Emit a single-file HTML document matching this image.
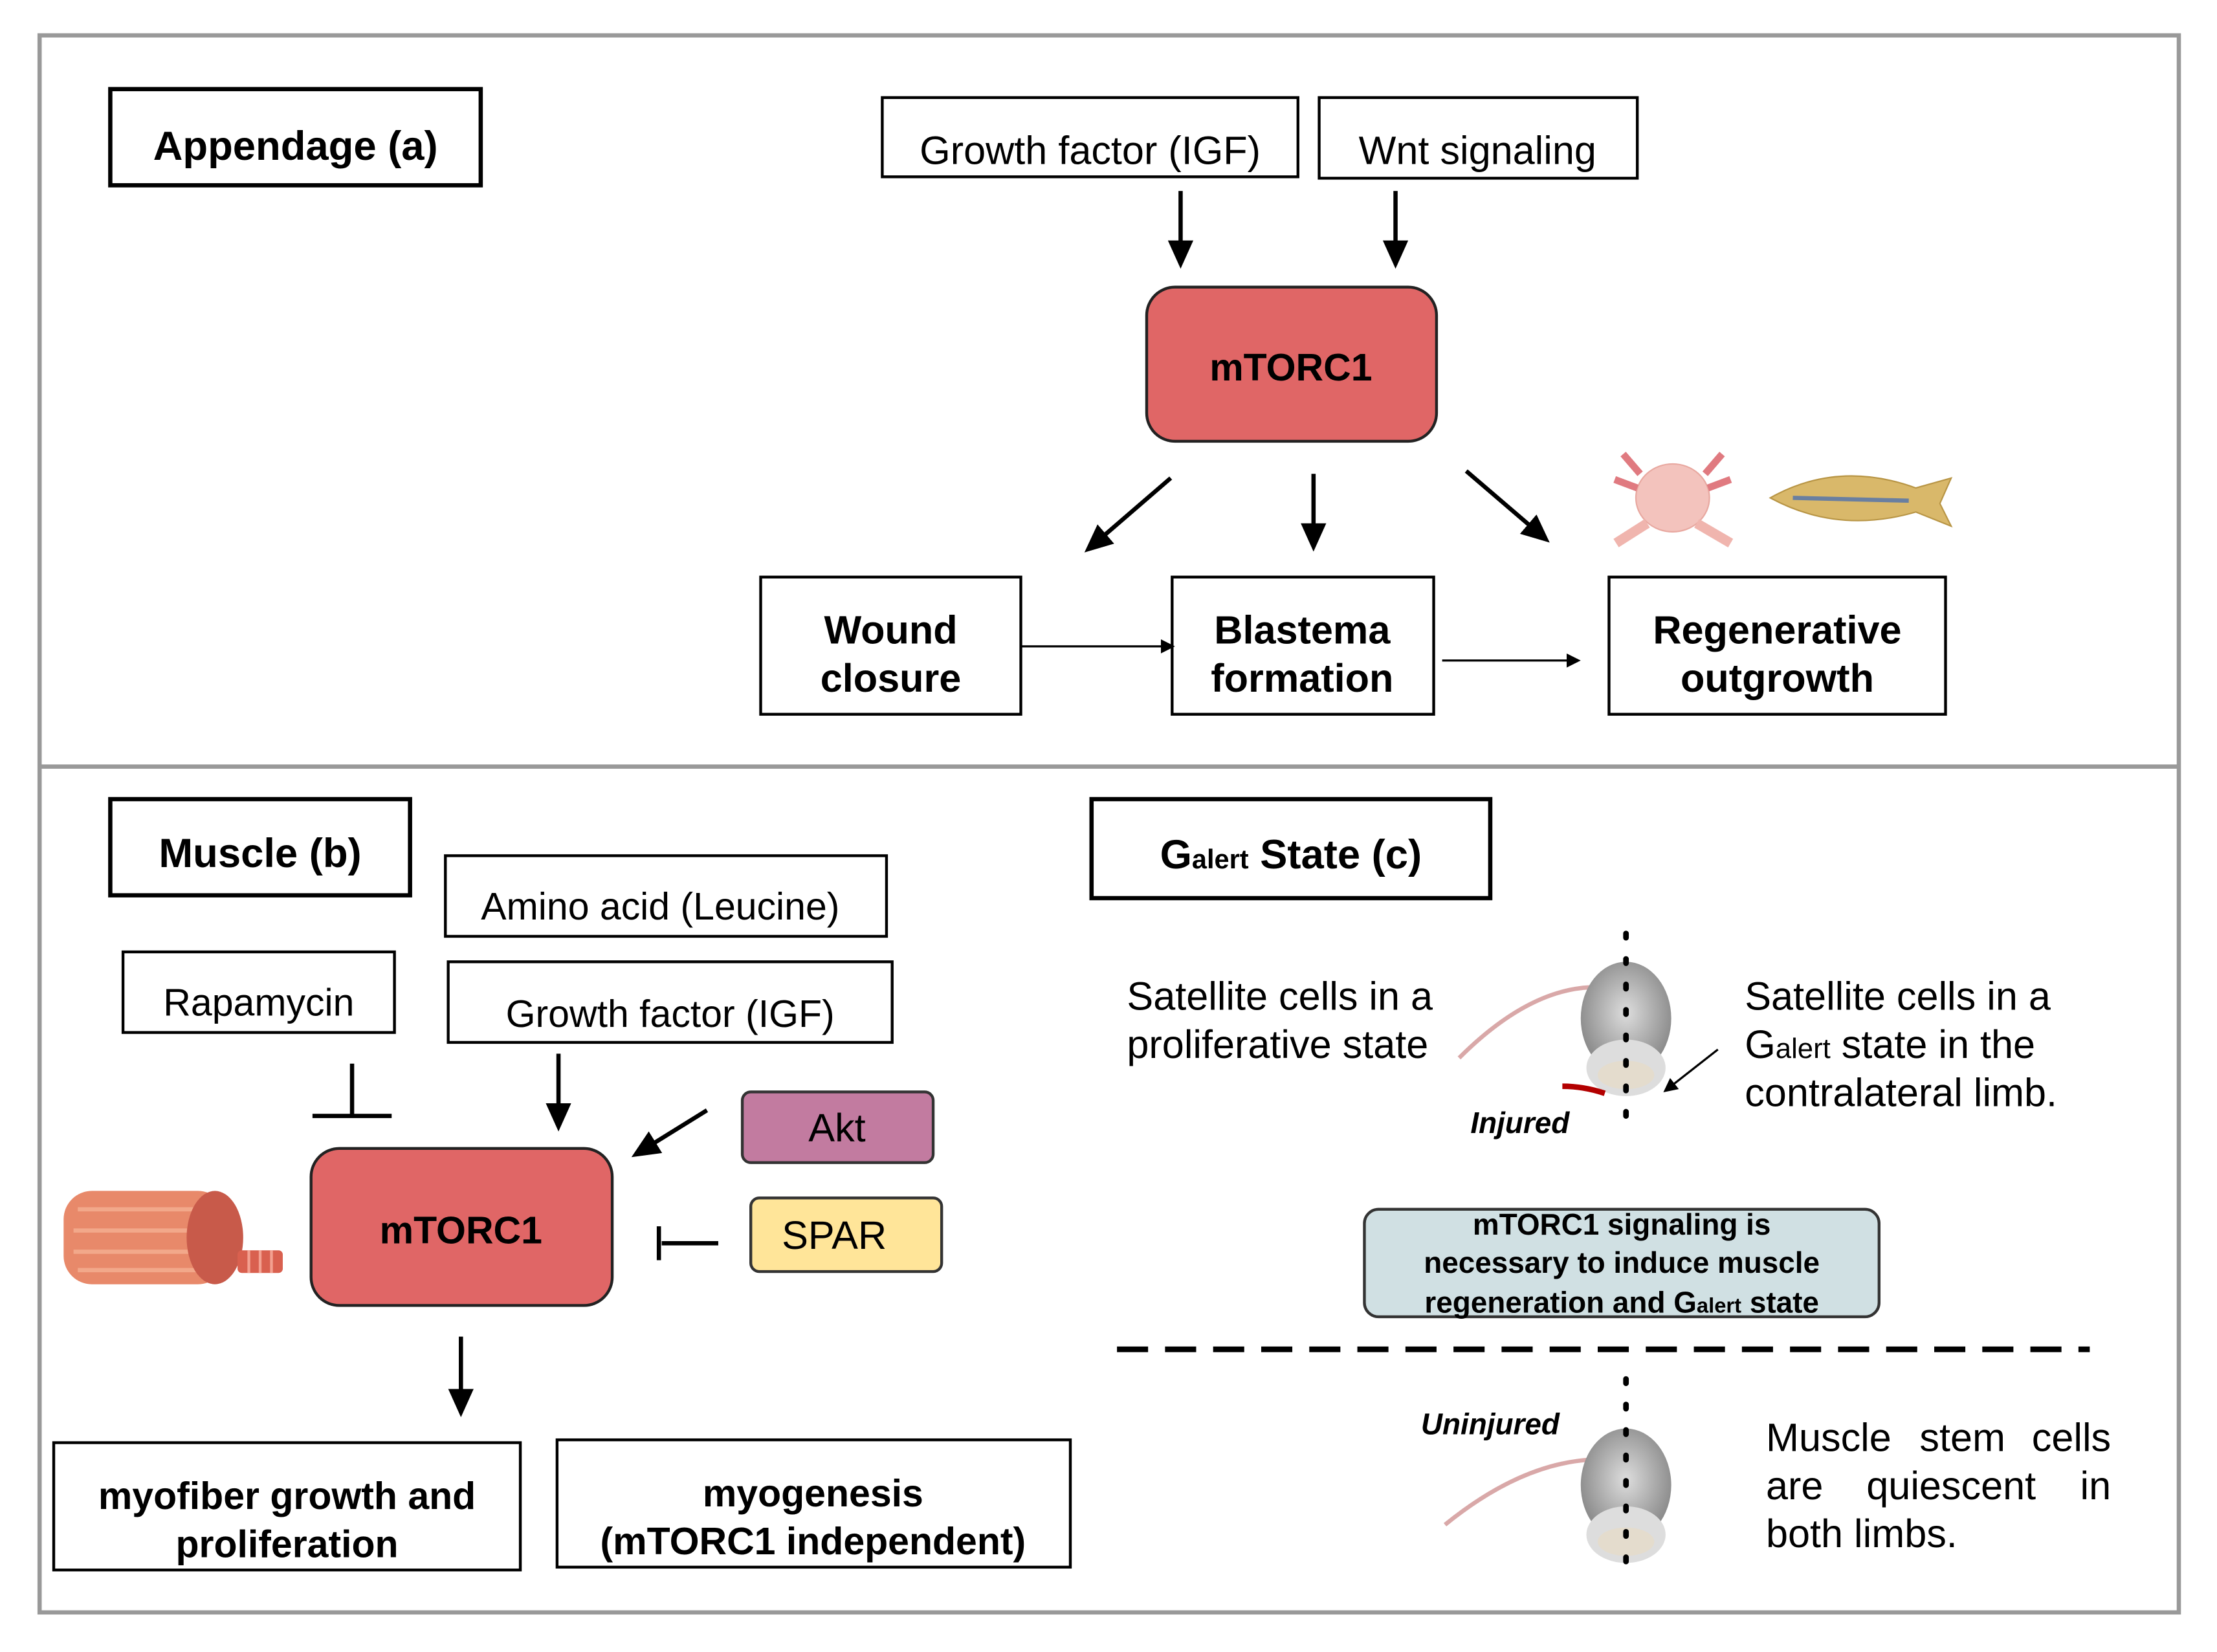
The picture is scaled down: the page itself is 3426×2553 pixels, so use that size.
<!DOCTYPE html>
<html><head><meta charset="utf-8"><style>
html,body{margin:0;padding:0;background:#fff;}
svg{display:block;}
text{font-family:"Liberation Sans",Arial,sans-serif;}
</style></head><body>
<svg width="3426" height="2553" viewBox="0 0 1568 1168" preserveAspectRatio="none" xmlns="http://www.w3.org/2000/svg">
<defs>
<marker id="ah" markerWidth="10" markerHeight="10" refX="8" refY="5" orient="auto" markerUnits="userSpaceOnUse"><path d="M0,0 L10,5 L0,10 z" fill="#000"/></marker>
<marker id="ahB" markerWidth="20" markerHeight="18" refX="16" refY="9" orient="auto" markerUnits="userSpaceOnUse"><path d="M0,0 L20,9 L0,18 z" fill="#000"/></marker>
<radialGradient id="mouse" cx="50%" cy="45%" r="55%"><stop offset="0" stop-color="#ddd"/><stop offset="0.6" stop-color="#aaa"/><stop offset="1" stop-color="#888"/></radialGradient>
</defs>
<rect x="0" y="0" width="1568" height="1168" fill="#fff"/>
<rect x="28" y="25" width="1513" height="1115" fill="none" stroke="#999" stroke-width="3"/>
<line x1="28" y1="542" x2="1541" y2="542" stroke="#999" stroke-width="3"/>

<!-- Panel a -->
<rect x="78" y="63" width="262" height="68" fill="#fff" stroke="#000" stroke-width="3"/>
<text x="209" y="113" font-size="29" font-weight="bold" text-anchor="middle">Appendage (a)</text>
<rect x="624" y="69" width="294" height="56" fill="#fff" stroke="#000" stroke-width="2"/>
<text x="771" y="116" font-size="28" text-anchor="middle">Growth factor (IGF)</text>
<rect x="933" y="69" width="225" height="57" fill="#fff" stroke="#000" stroke-width="2"/>
<text x="1045" y="116" font-size="28" text-anchor="middle">Wnt signaling</text>
<line x1="835" y1="135" x2="835" y2="186" stroke="#000" stroke-width="3" marker-end="url(#ahB)"/>
<line x1="987" y1="135" x2="987" y2="186" stroke="#000" stroke-width="3" marker-end="url(#ahB)"/>
<rect x="811" y="203" width="205" height="109" rx="20" fill="#e06666" stroke="#222" stroke-width="2"/>
<text x="913" y="269" font-size="27" font-weight="bold" text-anchor="middle">mTORC1</text>
<line x1="828" y1="338" x2="770" y2="388" stroke="#000" stroke-width="3" marker-end="url(#ahB)"/>
<line x1="929" y1="335" x2="929" y2="386" stroke="#000" stroke-width="3" marker-end="url(#ahB)"/>
<line x1="1037" y1="333" x2="1093" y2="381" stroke="#000" stroke-width="3" marker-end="url(#ahB)"/>
<rect x="538" y="408" width="184" height="97" fill="#fff" stroke="#000" stroke-width="2"/>
<text x="630" y="455" font-size="28" font-weight="bold" text-anchor="middle">Wound</text>
<text x="630" y="489" font-size="28" font-weight="bold" text-anchor="middle">closure</text>
<rect x="829" y="408" width="185" height="97" fill="#fff" stroke="#000" stroke-width="2"/>
<text x="921" y="455" font-size="28" font-weight="bold" text-anchor="middle">Blastema</text>
<text x="921" y="489" font-size="28" font-weight="bold" text-anchor="middle">formation</text>
<rect x="1138" y="408" width="238" height="97" fill="#fff" stroke="#000" stroke-width="2"/>
<text x="1257" y="455" font-size="28" font-weight="bold" text-anchor="middle">Regenerative</text>
<text x="1257" y="489" font-size="28" font-weight="bold" text-anchor="middle">outgrowth</text>
<line x1="722" y1="457" x2="829" y2="457" stroke="#000" stroke-width="1.5" marker-end="url(#ah)"/>
<line x1="1020" y1="467" x2="1116" y2="467" stroke="#000" stroke-width="1.5" marker-end="url(#ah)"/>
<!-- axolotl -->
<g fill="#f3c3bd" stroke="#e8a8a0" stroke-width="1">
<ellipse cx="1183" cy="352" rx="26" ry="24"/>
<path d="M1160,335 l-12,-14 M1158,345 l-16,-6 M1206,335 l12,-14 M1208,345 l16,-6" stroke="#e07a80" stroke-width="5"/>
<path d="M1165,370 l-22,14 M1200,370 l24,14" stroke="#f0b5ae" stroke-width="7"/>
</g>
<!-- fish -->
<path d="M1252,352 Q1300,325 1355,345 L1380,338 L1372,356 L1380,372 L1355,362 Q1300,378 1252,352 z" fill="#d9b86a" stroke="#b89545" stroke-width="1"/>
<path d="M1268,352 L1350,354" stroke="#6a7fa0" stroke-width="3"/>

<!-- Panel b -->
<rect x="78" y="565" width="212" height="68" fill="#fff" stroke="#000" stroke-width="3"/>
<text x="184" y="613" font-size="29" font-weight="bold" text-anchor="middle">Muscle (b)</text>
<rect x="315" y="605" width="312" height="57" fill="#fff" stroke="#000" stroke-width="2"/>
<text x="467" y="650" font-size="27" text-anchor="middle">Amino acid (Leucine)</text>
<rect x="87" y="673" width="192" height="57" fill="#fff" stroke="#000" stroke-width="2"/>
<text x="183" y="718" font-size="27" text-anchor="middle">Rapamycin</text>
<rect x="317" y="680" width="314" height="57" fill="#fff" stroke="#000" stroke-width="2"/>
<text x="474" y="726" font-size="27" text-anchor="middle">Growth factor (IGF)</text>
<line x1="249" y1="752" x2="249" y2="788" stroke="#000" stroke-width="3"/>
<line x1="221" y1="789" x2="277" y2="789" stroke="#000" stroke-width="3"/>
<line x1="395" y1="745" x2="395" y2="796" stroke="#000" stroke-width="3" marker-end="url(#ahB)"/>
<line x1="500" y1="785" x2="450" y2="816" stroke="#000" stroke-width="3" marker-end="url(#ahB)"/>
<rect x="525" y="772" width="135" height="50" rx="6" fill="#c27ba0" stroke="#333" stroke-width="2"/>
<text x="592" y="807" font-size="28" text-anchor="middle">Akt</text>
<rect x="531" y="847" width="135" height="52" rx="6" fill="#ffe599" stroke="#333" stroke-width="2"/>
<text x="590" y="883" font-size="28" text-anchor="middle">SPAR</text>
<line x1="468" y1="879" x2="508" y2="879" stroke="#000" stroke-width="3"/>
<line x1="466" y1="867" x2="466" y2="891" stroke="#000" stroke-width="3"/>
<rect x="220" y="812" width="213" height="111" rx="20" fill="#e06666" stroke="#222" stroke-width="2"/>
<text x="326" y="879" font-size="27" font-weight="bold" text-anchor="middle">mTORC1</text>
<!-- muscle fiber -->
<g>
<rect x="45" y="842" width="115" height="66" rx="20" fill="#e8896a"/>
<path d="M55,855 H150 M52,870 H152 M52,885 H152 M55,898 H150" stroke="#f2a88a" stroke-width="3"/>
<ellipse cx="152" cy="875" rx="20" ry="33" fill="#c85a4a"/>
<rect x="168" y="884" width="32" height="16" rx="3" fill="#d9604f"/>
<path d="M176,884 v16 M184,884 v16 M192,884 v16" stroke="#f3a090" stroke-width="2"/>
</g>
<line x1="326" y1="945" x2="326" y2="998" stroke="#000" stroke-width="3" marker-end="url(#ahB)"/>
<rect x="38" y="1020" width="330" height="90" fill="#fff" stroke="#000" stroke-width="2"/>
<text x="203" y="1067" font-size="27" font-weight="bold" text-anchor="middle">myofiber growth and</text>
<text x="203" y="1101" font-size="27" font-weight="bold" text-anchor="middle">proliferation</text>
<rect x="394" y="1018" width="363" height="90" fill="#fff" stroke="#000" stroke-width="2"/>
<text x="575" y="1065" font-size="27" font-weight="bold" text-anchor="middle">myogenesis</text>
<text x="575" y="1099" font-size="27" font-weight="bold" text-anchor="middle">(mTORC1 independent)</text>

<!-- Panel c -->
<rect x="772" y="565" width="282" height="70" fill="#fff" stroke="#000" stroke-width="3"/>
<text x="913" y="614" font-size="29" font-weight="bold" text-anchor="middle">G<tspan font-size="19">alert</tspan> State (c)</text>
<text x="797" y="714" font-size="28">Satellite cells in a</text>
<text x="797" y="748" font-size="28">proliferative state</text>
<text x="1234" y="714" font-size="28">Satellite cells in a</text>
<text x="1234" y="748" font-size="28">G<tspan font-size="20">alert</tspan> state in the</text>
<text x="1234" y="782" font-size="28">contralateral limb.</text>
<!-- mouse 1 -->
<path d="M1032,748 Q1080,700 1125,698" fill="none" stroke="#d9a8a8" stroke-width="3"/>
<ellipse cx="1150" cy="720" rx="32" ry="40" fill="url(#mouse)"/>
<ellipse cx="1150" cy="755" rx="28" ry="20" fill="#ddd"/>
<ellipse cx="1150" cy="760" rx="20" ry="10" fill="#e4dccd"/>
<path d="M1105,768 Q1120,768 1135,773" stroke="#b30000" stroke-width="4" fill="none"/>
<line x1="1215" y1="742" x2="1178" y2="771" stroke="#000" stroke-width="1.5" marker-end="url(#ah)"/>
<line x1="1150" y1="660" x2="1150" y2="800" stroke="#000" stroke-width="4" stroke-dasharray="3 15" stroke-linecap="round"/>
<text x="1040" y="801" font-size="21" font-weight="bold" font-style="italic">Injured</text>
<rect x="965" y="855" width="364" height="76" rx="10" fill="#d0e0e3" stroke="#333" stroke-width="2"/>
<text x="1147" y="873" font-size="21" font-weight="bold" text-anchor="middle">mTORC1 signaling is</text>
<text x="1147" y="900" font-size="21" font-weight="bold" text-anchor="middle">necessary to induce muscle</text>
<text x="1147" y="928" font-size="21" font-weight="bold" text-anchor="middle">regeneration and G<tspan font-size="15">alert</tspan> state</text>
<line x1="790" y1="954" x2="1478" y2="954" stroke="#000" stroke-width="4" stroke-dasharray="22 12"/>
<text x="1005" y="1014" font-size="21" font-weight="bold" font-style="italic">Uninjured</text>
<!-- mouse 2 -->
<path d="M1022,1078 Q1075,1035 1125,1032" fill="none" stroke="#d9a8a8" stroke-width="3"/>
<ellipse cx="1150" cy="1050" rx="32" ry="40" fill="url(#mouse)"/>
<ellipse cx="1150" cy="1085" rx="28" ry="20" fill="#ddd"/>
<ellipse cx="1150" cy="1090" rx="20" ry="10" fill="#e4dccd"/>
<line x1="1150" y1="975" x2="1150" y2="1112" stroke="#000" stroke-width="4" stroke-dasharray="3 15" stroke-linecap="round"/>
<text x="1249" y="1026" font-size="28">Muscle</text><text x="1388" y="1026" font-size="28" text-anchor="middle">stem</text><text x="1493" y="1026" font-size="28" text-anchor="end">cells</text>
<text x="1249" y="1060" font-size="28">are</text><text x="1380" y="1060" font-size="28" text-anchor="middle">quiescent</text><text x="1493" y="1060" font-size="28" text-anchor="end">in</text>
<text x="1249" y="1094" font-size="28">both limbs.</text>
</svg>
</body></html>
